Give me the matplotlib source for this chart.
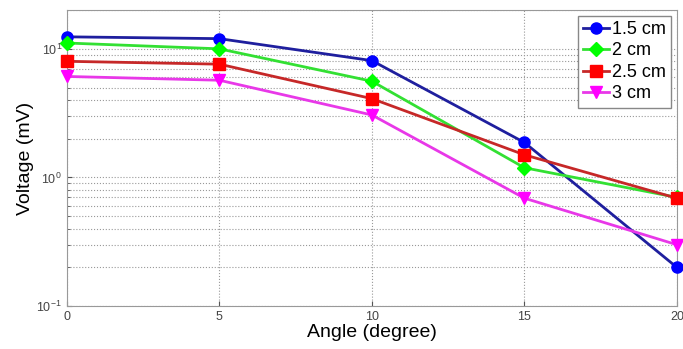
import matplotlib
matplotlib.use('Agg')
import matplotlib.pyplot as plt
from matplotlib.ticker import LogLocator, NullFormatter

# Data
angle = [0, 5, 10, 15, 20]
v_15cm = [12.4, 12.0, 8.1, 1.87, 0.2]
v_2cm = [11.1, 10.0, 5.6, 1.19, 0.7]
v_25cm = [8.0, 7.6, 4.1, 1.5, 0.69]
v_3cm = [6.1, 5.7, 3.06, 0.69, 0.3]
labels = ['1.5 cm', '2 cm', '2.5 cm', '3 cm']

plt.rcParams['font.family'] = ['Liberation Sans', 'DejaVu Sans']

fig = plt.figure(figsize=(6.83, 3.49), dpi=100)
ax = fig.add_axes([0.098, 0.123, 0.893, 0.848])

# series styles: line colour, marker colour, marker
styles = [('#1f1f9e', '#0000ff', 'o'),
          ('#33e033', '#00ff00', 'D'),
          ('#c62828', '#ff0000', 's'),
          ('#e838e8', '#ff00ff', 'v')]
series = [v_15cm, v_2cm, v_25cm, v_3cm]

for vals, lab, (lc, mc, mk) in zip(series, labels, styles):
    ms = 7 if mk == 'D' else 8
    ax.plot(angle, vals, color=lc, lw=2, marker=mk, ms=ms,
            mfc=mc, mec=mc, label=lab, clip_on=False, zorder=3)

ax.set_yscale('log')
ax.set_xlim(0, 20)
ax.set_ylim(0.1, 20)
ax.set_xticks([0, 5, 10, 15, 20])
ax.yaxis.set_major_locator(LogLocator(base=10, numticks=5))
ax.yaxis.set_minor_locator(LogLocator(base=10, subs=range(2, 10), numticks=20))
ax.yaxis.set_minor_formatter(NullFormatter())

# MATLAB style dotted grid
ax.grid(True, which='major', axis='both', ls=':', lw=0.8, color='#999999')
ax.grid(True, which='minor', axis='y', ls=':', lw=0.8, color='#999999')
ax.tick_params(which='both', direction='in', labelsize=9, colors='#555555',
               labelcolor='#444444', top=False, right=False)
ax.tick_params(which='minor', length=2)
for s in ax.spines.values():
    s.set_color('#999999')

ax.set_xlabel('Angle (degree)', fontsize=14, labelpad=1)
ax.set_ylabel('Voltage (mV)', fontsize=14, labelpad=2)

leg = ax.legend(loc='upper right', fontsize=13, fancybox=False,
                framealpha=1, edgecolor='#888888', handlelength=1.4,
                handletextpad=0.2, borderpad=0.3, labelspacing=0.25,
                borderaxespad=0.3)

fig.savefig('out.png', dpi=100)
